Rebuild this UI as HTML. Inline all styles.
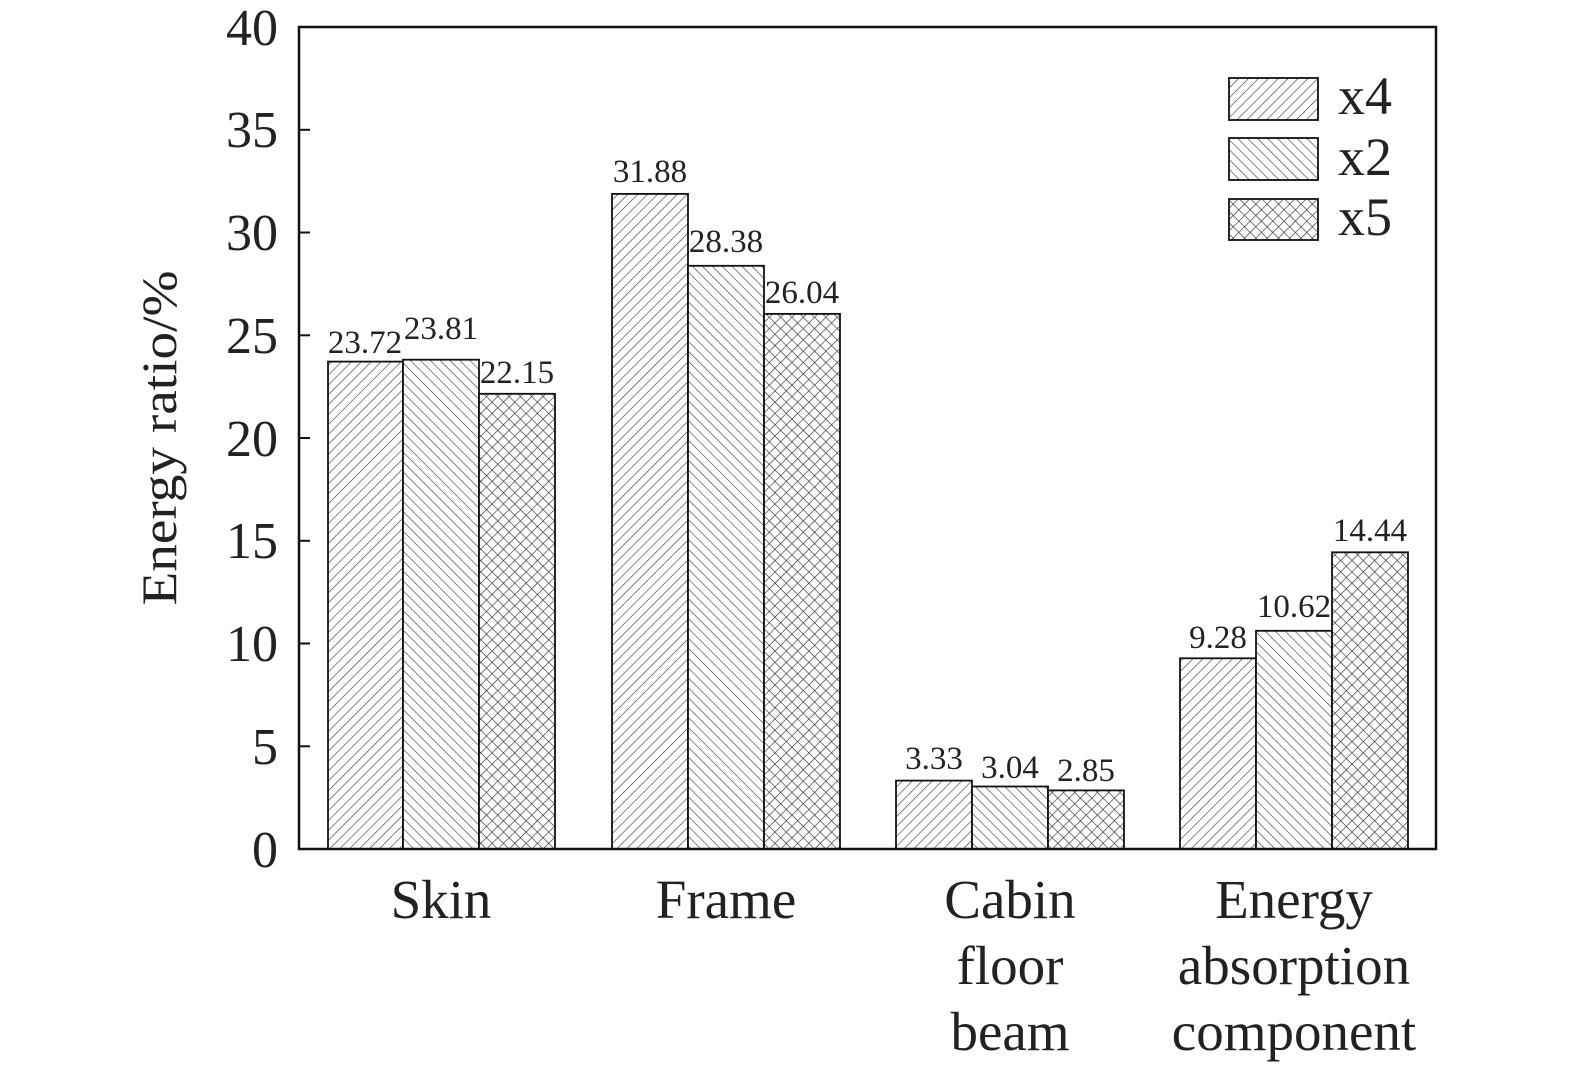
<!DOCTYPE html><html><head><style>body{margin:0;background:#fff}svg{display:block}text{font-family:"Liberation Serif",serif;fill:#222}</style></head><body>
<svg width="1575" height="1072" viewBox="0 0 1575 1072">
<defs>
<pattern id="p4" width="7" height="7" patternUnits="userSpaceOnUse" patternTransform="rotate(45)"><rect width="7" height="7" fill="#fff"/><line x1="0" y1="0" x2="0" y2="7" stroke="#444" stroke-width="1.3"/></pattern>
<pattern id="p2" width="7" height="7" patternUnits="userSpaceOnUse" patternTransform="rotate(-45)"><rect width="7" height="7" fill="#fff"/><line x1="0" y1="0" x2="0" y2="7" stroke="#444" stroke-width="1.3"/></pattern>
<pattern id="p5" width="8" height="8" patternUnits="userSpaceOnUse" patternTransform="rotate(45)"><rect width="8" height="8" fill="#fff"/><line x1="0" y1="0" x2="0" y2="8" stroke="#333" stroke-width="1.3"/><line x1="0" y1="0" x2="8" y2="0" stroke="#333" stroke-width="1.3"/></pattern>
</defs>
<g stroke="#111" stroke-width="1.8">
<rect x="328" y="361.6" width="75" height="487.4" fill="url(#p4)"/>
<rect x="403" y="359.7" width="76" height="489.3" fill="url(#p2)"/>
<rect x="479" y="393.8" width="76" height="455.2" fill="url(#p5)"/>
<rect x="612" y="193.9" width="76" height="655.1" fill="url(#p4)"/>
<rect x="688" y="265.8" width="76" height="583.2" fill="url(#p2)"/>
<rect x="764" y="313.9" width="76" height="535.1" fill="url(#p5)"/>
<rect x="896" y="780.6" width="76" height="68.4" fill="url(#p4)"/>
<rect x="972" y="786.5" width="76" height="62.5" fill="url(#p2)"/>
<rect x="1048" y="790.4" width="76" height="58.6" fill="url(#p5)"/>
<rect x="1180" y="658.3" width="76" height="190.7" fill="url(#p4)"/>
<rect x="1256" y="630.8" width="76" height="218.2" fill="url(#p2)"/>
<rect x="1332" y="552.3" width="76" height="296.7" fill="url(#p5)"/>
<rect x="1229" y="78" width="89" height="42" fill="url(#p4)"/>
<rect x="1229" y="138" width="89" height="42" fill="url(#p2)"/>
<rect x="1229" y="199" width="89" height="41" fill="url(#p5)"/>
</g>
<rect x="299" y="27" width="1137" height="822" fill="none" stroke="#111" stroke-width="2.5"/>
<g stroke="#111" stroke-width="2">
<line x1="299" y1="746.3" x2="310" y2="746.3"/><line x1="299" y1="643.5" x2="310" y2="643.5"/><line x1="299" y1="540.8" x2="310" y2="540.8"/><line x1="299" y1="438" x2="310" y2="438"/><line x1="299" y1="335.3" x2="310" y2="335.3"/><line x1="299" y1="232.5" x2="310" y2="232.5"/><line x1="299" y1="129.8" x2="310" y2="129.8"/>
</g>
<g font-size="52" text-anchor="end">
<text x="278" y="867">0</text><text x="278" y="764">5</text><text x="278" y="661">10</text><text x="278" y="558">15</text><text x="278" y="456">20</text><text x="278" y="353">25</text><text x="278" y="250">30</text><text x="278" y="147">35</text><text x="278" y="45">40</text>
</g>
<text transform="translate(176,438) rotate(-90)" font-size="50" text-anchor="middle" textLength="335" lengthAdjust="spacingAndGlyphs">Energy ratio/%</text>
<g font-size="33" text-anchor="middle">
<text x="365" y="353">23.72</text><text x="441" y="339">23.81</text><text x="517" y="383">22.15</text>
<text x="650" y="182">31.88</text><text x="726" y="252">28.38</text><text x="802" y="303">26.04</text>
<text x="934" y="769">3.33</text><text x="1010" y="778">3.04</text><text x="1086" y="781">2.85</text>
<text x="1218" y="648">9.28</text><text x="1294" y="617">10.62</text><text x="1370" y="541">14.44</text>
</g>
<g font-size="55" text-anchor="middle">
<text x="441" y="918">Skin</text><text x="726" y="918">Frame</text>
<text x="1010" y="918">Cabin</text><text x="1010" y="984">floor</text><text x="1010" y="1050">beam</text>
<text x="1294" y="918">Energy</text><text x="1294" y="984">absorption</text><text x="1294" y="1050">component</text>
</g>
<g font-size="54"><text x="1338" y="114">x4</text><text x="1338" y="175">x2</text><text x="1338" y="235">x5</text></g>
</svg></body></html>
